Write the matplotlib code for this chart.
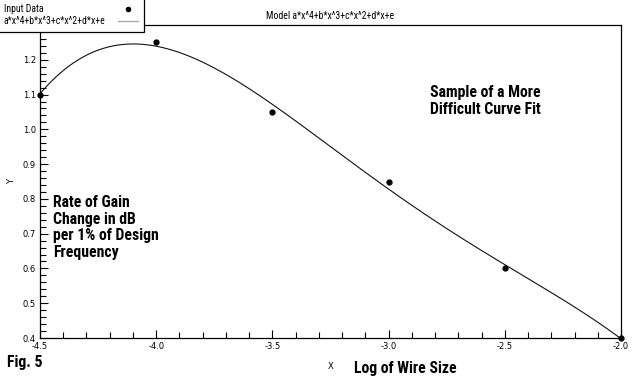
import numpy as np
import matplotlib
matplotlib.use("Agg")
import matplotlib.pyplot as plt
from matplotlib import font_manager as fm
from matplotlib.ticker import MultipleLocator, FormatStrFormatter, FuncFormatter
from matplotlib.lines import Line2D
from matplotlib.patches import Rectangle

x_data = [-4.5, -4.0, -3.5, -3.0, -2.5, -2.0]
y_data = [1.10, 1.25, 1.05, 0.85, 0.60, 0.40]
legend_labels = ["Input Data", "a*x^4+b*x^3+c*x^2+d*x+e"]
title_text = "Model a*x^4+b*x^3+c*x^2+d*x+e"

# Model a*x^4+b*x^3+c*x^2+d*x+e fitted to the input data
coef = np.polyfit(x_data, y_data, 4)
xf = np.linspace(-4.5, -2.0, 300)
yf = np.polyval(coef, xf)

# pick a narrow family if available
names = {f.name for f in fm.fontManager.ttflist}
stretch = "normal"
narrow_family = "Liberation Sans"
for cand in ["Liberation Sans Narrow", "Roboto Condensed", "Open Sans Condensed", "Arial Narrow"]:
    if cand in names:
        narrow_family = cand
        break
else:
    if any(f.name == "DejaVu Sans" and f.stretch == "condensed" for f in fm.fontManager.ttflist):
        narrow_family = "DejaVu Sans"
        stretch = "condensed"

W, H = 640, 379
fig = plt.figure(figsize=(6.4, 3.79), dpi=100)
ax = fig.add_axes([40/W, 1-338/H, (621-40)/W, (338-25)/H])
r = fig.canvas.get_renderer()


def fit_size(text, target_px, base=10, **kw):
    t = fig.text(0, 0, text, fontsize=base, **kw)
    w = t.get_window_extent(r).width
    t.remove()
    return base * target_px / w


def line_pitch(**kw):
    t1 = fig.text(0, 0, "Ag", linespacing=1.0, **kw)
    t2 = fig.text(0, 0, "Ag\nAg", linespacing=1.0, **kw)
    p = t2.get_window_extent(r).height - t1.get_window_extent(r).height
    t1.remove()
    t2.remove()
    return p


ax.plot(xf, yf, color="#111111", lw=0.8)
ax.plot(x_data, y_data, "o", color="black", ms=3.5, clip_on=False, zorder=5)

ax.set_xlim(-4.5, -2.0)
ax.set_ylim(0.4, 1.3)
ax.xaxis.set_major_locator(MultipleLocator(0.5))
ax.xaxis.set_minor_locator(MultipleLocator(0.1))
ax.yaxis.set_major_locator(MultipleLocator(0.1))
ax.yaxis.set_minor_locator(MultipleLocator(0.02))
ax.xaxis.set_major_formatter(FormatStrFormatter("%.1f"))
# the top label (1.3) sits under the legend box in the reference
ax.yaxis.set_major_formatter(FuncFormatter(lambda v, p: "" if v > 1.25 else f"{v:.1f}"))
ax.tick_params(which="both", direction="in", labelsize=6, color="black")
ax.tick_params(which="major", length=6, width=0.8)
ax.tick_params(which="minor", length=4, width=0.8)
ax.tick_params(axis="x", pad=3)
ax.tick_params(axis="y", pad=3)
for s in ax.spines.values():
    s.set_linewidth(0.9)

small = dict(family=narrow_family, fontstretch=stretch)
small_size = min(fit_size(title_text, 132, **small), 7)
ax.set_title(title_text, fontsize=small_size, pad=4, **small)
ax.set_xlabel("X", fontsize=6, labelpad=8)
ax.set_ylabel("Y", fontsize=6, labelpad=5)

bold = dict(family=narrow_family, fontweight="bold", fontstretch=stretch)
bold["fontsize"] = min(fit_size("Sample of a More", 111, **bold), 12)
ls = 17.0 / line_pitch(**bold)

fig.text(430/W, 1-85/H, "Sample of a More\nDifficult Curve Fit", va="top", ha="left",
         linespacing=ls, **bold)
fig.text(53/W, 1-195/H, "Rate of Gain\nChange in dB\nper 1% of Design\nFrequency",
         va="top", ha="left", linespacing=ls, **bold)
fig.text(7/W, 1-362/H, "Fig. 5", va="center", ha="left", **bold)
fig.text(354/W, 1-368/H, "Log of Wire Size", va="center", ha="left", **bold)

# legend box (top-left of the figure, over the axes frame)
fig.patches.append(Rectangle((-0.01, 1-32/H), (144/W)+0.01, 32/H+0.01, transform=fig.transFigure,
                             facecolor="white", edgecolor="black", lw=0.9, zorder=4))
fig.text(4/W, 1-9/H, legend_labels[0], fontsize=small_size, va="center", ha="left", zorder=5, **small)
fig.text(4/W, 1-21/H, legend_labels[1], fontsize=small_size, va="center", ha="left", zorder=5, **small)
fig.lines.append(Line2D([128/W], [1-9/H], marker="o", ms=3, color="black", ls="none",
                        transform=fig.transFigure, zorder=5))
fig.lines.append(Line2D([118/W, 138/W], [1-21/H, 1-21/H], color="#aaaaaa", lw=1,
                        transform=fig.transFigure, zorder=5))

fig.savefig("out.png", dpi=100)
